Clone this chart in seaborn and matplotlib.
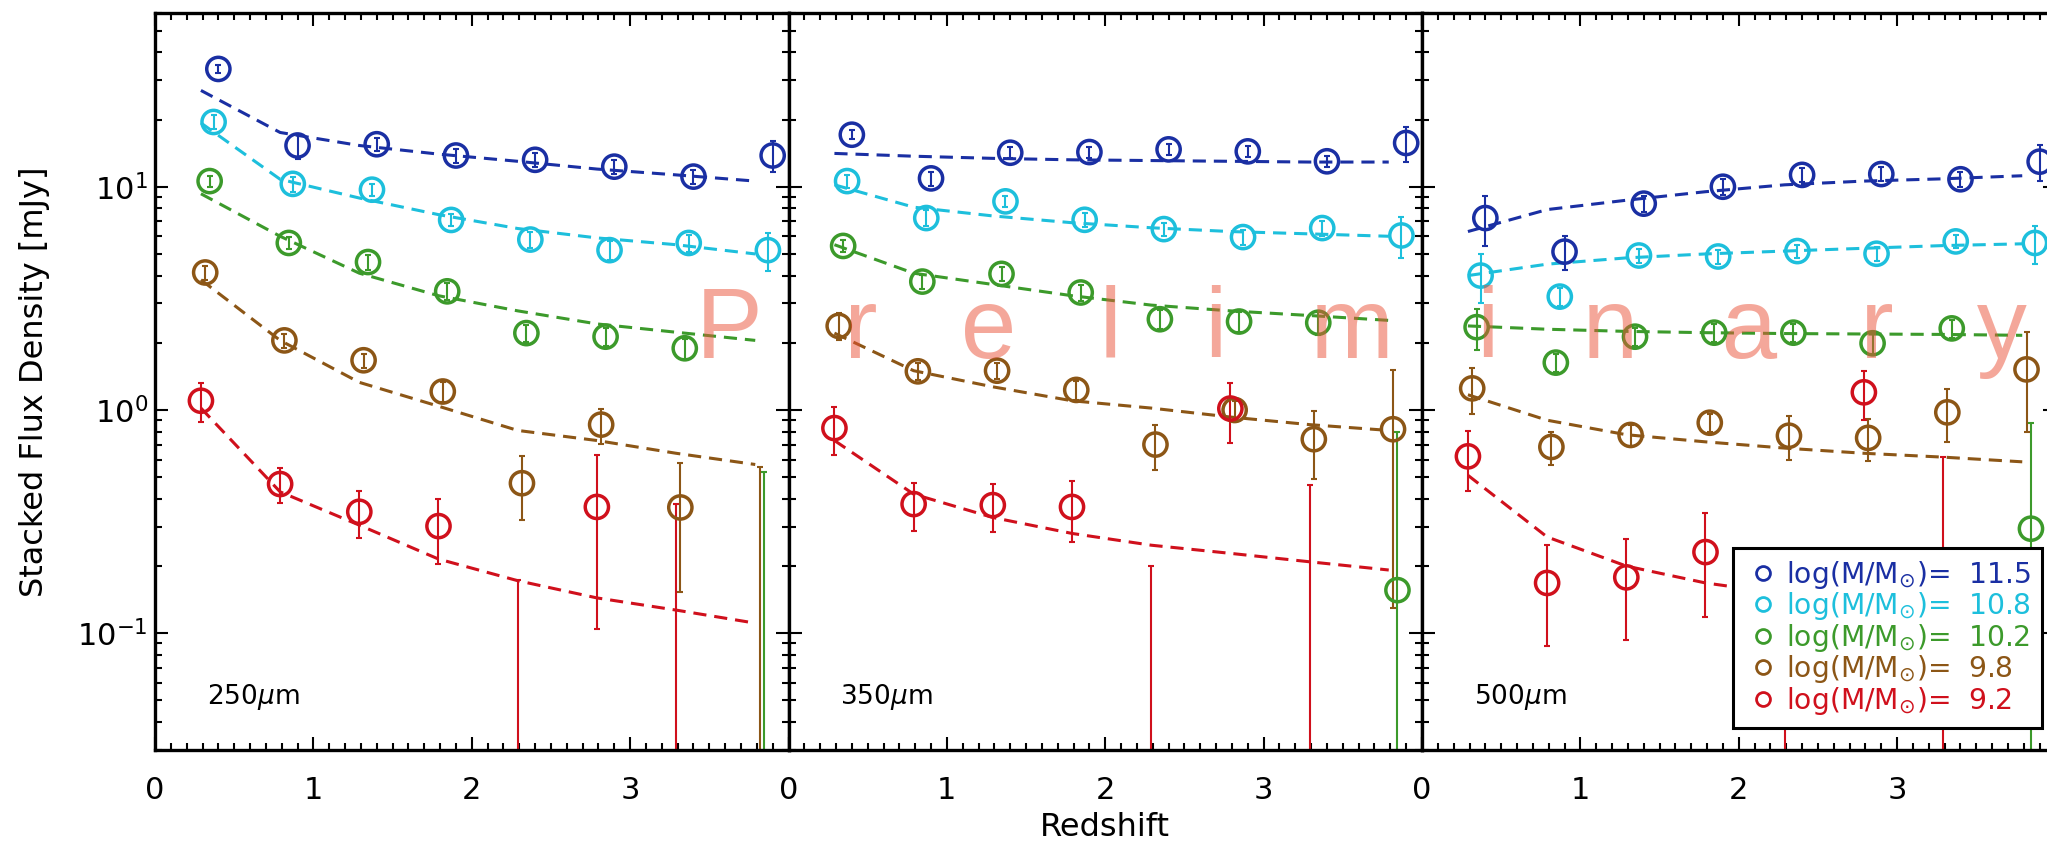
import numpy as np
import pandas as pd
import matplotlib
matplotlib.use("Agg")
import matplotlib.pyplot as plt
import seaborn as sns
from matplotlib.lines import Line2D
from matplotlib.ticker import MultipleLocator, LogLocator, NullFormatter

# ---------------- data ----------------
bands = ["250", "350", "500"]
band_labels = [r"250$\mu$m", r"350$\mu$m", r"500$\mu$m"]
masses = ["11.5", "10.8", "10.2", "9.8", "9.2"]
mass_colors = ["#1a2fa3", "#1dbfdc", "#3c9a2b", "#8c5616", "#d0101c"]
z_bins = [0.29, 0.79, 1.29, 1.79, 2.29, 2.79, 3.29, 3.79]
mass_dodge = [0.11, 0.08, 0.055, 0.027, 0.0]

# rows: masses 11.5, 10.8, 10.2, 9.8, 9.2 ; columns: redshift bins
flux_250 = [
    [33.7, 15.3, 15.5, 13.8, 13.2, 12.3, 11.1, 13.8],
    [19.5, 10.3, 9.7, 7.1, 5.8, 5.2, 5.6, 5.2],
    [10.6, 5.6, 4.6, 3.4, 2.21, 2.13, 1.89, 0.01],
    [4.13, 2.05, 1.67, 1.21, 0.47, 0.86, 0.366, 0.01],
    [1.10, 0.466, 0.35, 0.302, 0.01, 0.368, 0.01, np.nan],
]
err_250 = [
    [1.5, 2.0, 1.0, 1.0, 0.9, 0.9, 0.8, 2.2],
    [1.4, 0.8, 0.6, 0.45, 0.5, 0.5, 0.5, 1.0],
    [0.6, 0.35, 0.35, 0.3, 0.2, 0.2, 0.2, 0.52],
    [0.3, 0.15, 0.12, 0.12, 0.15, 0.155, 0.213, 0.547],
    [0.22, 0.082, 0.083, 0.098, 0.163, 0.263, 0.368, np.nan],
]
model_250 = [
    [27.0, 17.5, 15.3, 14.0, 13.0, 12.0, 11.3, 10.6],
    [19.3, 10.8, 8.9, 7.5, 6.5, 5.9, 5.5, 5.0],
    [9.3, 6.0, 4.1, 3.25, 2.78, 2.43, 2.23, 2.05],
    [3.83, 2.05, 1.33, 1.04, 0.81, 0.73, 0.64, 0.57],
    [1.02, 0.43, 0.305, 0.215, 0.172, 0.144, 0.127, 0.111],
]

flux_350 = [
    [17.1, 10.9, 14.2, 14.3, 14.7, 14.4, 13.0, 15.7],
    [10.6, 7.24, 8.6, 7.11, 6.46, 5.95, 6.53, 6.05],
    [5.43, 3.76, 4.07, 3.36, 2.55, 2.49, 2.46, 0.156],
    [2.38, 1.49, 1.50, 1.23, 0.70, 1.0, 0.74, 0.82],
    [0.83, 0.379, 0.375, 0.368, 0.01, 1.015, 0.01, np.nan],
]
err_350 = [
    [0.8, 0.8, 0.8, 0.8, 0.8, 0.8, 0.8, 2.85],
    [0.7, 0.6, 0.45, 0.5, 0.45, 0.45, 0.5, 1.25],
    [0.35, 0.28, 0.28, 0.28, 0.25, 0.25, 0.3, 0.644],
    [0.33, 0.13, 0.12, 0.12, 0.16, 0.1, 0.25, 0.69],
    [0.2, 0.093, 0.09, 0.112, 0.19, 0.305, 0.451, np.nan],
]
model_350 = [
    [14.1, 13.7, 13.4, 13.2, 13.1, 13.0, 12.9, 12.9],
    [10.2, 8.1, 7.4, 6.9, 6.55, 6.3, 6.15, 6.0],
    [5.5, 4.1, 3.65, 3.25, 2.95, 2.78, 2.65, 2.52],
    [2.21, 1.5, 1.27, 1.10, 1.02, 0.93, 0.86, 0.81],
    [0.73, 0.42, 0.33, 0.28, 0.248, 0.228, 0.209, 0.192],
]

flux_500 = [
    [7.24, 5.12, 8.4, 10.0, 11.3, 11.4, 10.8, 12.95],
    [4.0, 3.22, 4.92, 4.87, 5.15, 5.01, 5.69, 5.6],
    [2.35, 1.63, 2.13, 2.22, 2.22, 1.99, 2.32, 0.294],
    [1.25, 0.683, 0.773, 0.877, 0.767, 0.75, 0.976, 1.52],
    [0.62, 0.168, 0.178, 0.231, 0.01, 1.2, 0.01, np.nan],
]
err_500 = [
    [1.81, 0.9, 0.7, 0.8, 0.8, 0.8, 0.8, 2.35],
    [1.0, 0.3, 0.35, 0.35, 0.35, 0.35, 0.4, 1.1],
    [0.49, 0.15, 0.2, 0.2, 0.2, 0.2, 0.22, 0.583],
    [0.29, 0.117, 0.08, 0.08, 0.17, 0.16, 0.26, 0.72],
    [0.188, 0.08, 0.085, 0.113, 0.2, 0.3, 0.608, np.nan],
]
model_500 = [
    [6.3, 7.9, 8.7, 9.5, 10.2, 10.6, 10.85, 11.2],
    [4.0, 4.5, 4.8, 5.0, 5.15, 5.3, 5.45, 5.55],
    [2.38, 2.3, 2.25, 2.22, 2.2, 2.19, 2.18, 2.16],
    [1.17, 0.90, 0.775, 0.72, 0.675, 0.64, 0.615, 0.586],
    [0.51, 0.27, 0.20, 0.168, 0.15, 0.137, 0.127, 0.118],
]

x_ticks = [0, 1, 2, 3, 4]
x_ticklabels = ["0", "1", "2", "3", ""]

# ---------------- long-form table ----------------
rows = []
for b, fl, er, mo in zip(bands, [flux_250, flux_350, flux_500],
                         [err_250, err_350, err_500],
                         [model_250, model_350, model_500]):
    for mi, m in enumerate(masses):
        for k, z in enumerate(z_bins):
            rows.append(dict(band=b, mass=m, z=z, zp=z + mass_dodge[mi],
                             flux=fl[mi][k], err=er[mi][k], model=mo[mi][k]))
df = pd.DataFrame(rows)

# ---------------- figure ----------------
sns.set_theme(style="ticks")
plt.rcParams["font.family"] = ["DejaVu Sans"]
plt.rcParams["mathtext.fontset"] = "dejavusans"

fig = plt.figure(figsize=(20.47, 8.44), dpi=100)
W = 633.5 / 2047
H = 737 / 844
B = 94 / 844
lefts = [155 / 2047, 788.5 / 2047, 1422 / 2047]
axes = [fig.add_axes([l, B, W, H]) for l in lefts]

for i, (ax, b, lab) in enumerate(zip(axes, bands, band_labels)):
    sub = df[df.band == b]
    ax.set_yscale("log")
    for mi, m in enumerate(masses):
        d = sub[sub.mass == m]
        c = mass_colors[mi]
        sns.lineplot(data=d, x="z", y="model", color=c, lw=2.2,
                     linestyle=(0, (4.3, 2.6)), ax=ax, estimator=None,
                     sort=False, errorbar=None, legend=False, zorder=2)
        ax.errorbar(d.zp, d.flux, yerr=d.err, fmt="none", ecolor=c,
                    elinewidth=1.5, capsize=2.5, capthick=1.5, zorder=2.5)
        sns.scatterplot(data=d, x="zp", y="flux", color=c, facecolor="none",
                        edgecolor=c, s=280, linewidth=2.5, marker="o", ax=ax,
                        legend=False, zorder=3)
    ax.set_xlim(0, 4)
    ax.set_ylim(0.03, 60)
    ax.set_xticks(x_ticks, x_ticklabels)
    ax.xaxis.set_minor_locator(MultipleLocator(0.1))
    ax.yaxis.set_major_locator(LogLocator(base=10))
    ax.yaxis.set_minor_locator(LogLocator(base=10, subs=np.arange(2, 10)))
    ax.yaxis.set_minor_formatter(NullFormatter())
    ax.tick_params(which="both", direction="in", top=True, right=True,
                   width=1.5, color="black", labelcolor="black")
    ax.tick_params(which="major", length=9.5)
    ax.tick_params(which="minor", length=5)
    ax.tick_params(axis="x", labelsize=22, pad=18.5)
    ax.tick_params(axis="y", labelsize=22, pad=5)
    for sp in ax.spines.values():
        sp.set_linewidth(2.4)
        sp.set_color("black")
    ax.set_xlabel("")
    ax.set_ylabel("")
    ax.text(0.082, 0.072, lab, transform=ax.transAxes, fontsize=19,
            va="center", ha="left", color="black")
    if i > 0:
        ax.tick_params(axis="y", which="both", labelleft=False)

axes[1].set_xlabel("Redshift", fontsize=23, color="black")
axes[1].xaxis.set_label_coords(0.5, -0.084)
axes[0].set_ylabel("Stacked Flux Density [mJy]", fontsize=23, color="black")
axes[0].yaxis.set_label_coords(-0.166, 0.5)

# legend
handles = [Line2D([], [], ls="none", marker="o", ms=10, mfc="none", mec=c, mew=2.0)
           for c in mass_colors]
labels = [rf"log(M/M$_{{\odot}}$)=  {m}" for m in masses]
leg = axes[2].legend(handles, labels, loc="lower right", bbox_to_anchor=(0.9787, 0.030),
                     borderaxespad=0, frameon=True, fancybox=False, framealpha=1,
                     edgecolor="black", fontsize=20.3, labelcolor="markeredgecolor",
                     handlelength=1.35, handletextpad=0.12, labelspacing=-0.02,
                     borderpad=0.4)
leg.get_frame().set_linewidth(2.2)
leg.set_zorder(5)

# watermark
fig.text(696 / 2047, (844 - 358) / 844, "P   r   e   l   i   m   i   n   a   r   y",
         fontsize=72, family="Liberation Sans", color=(235 / 255, 81 / 255, 55 / 255),
         alpha=0.5, ha="left", va="baseline", zorder=10)

fig.savefig("out.png", dpi=100, facecolor="white")
